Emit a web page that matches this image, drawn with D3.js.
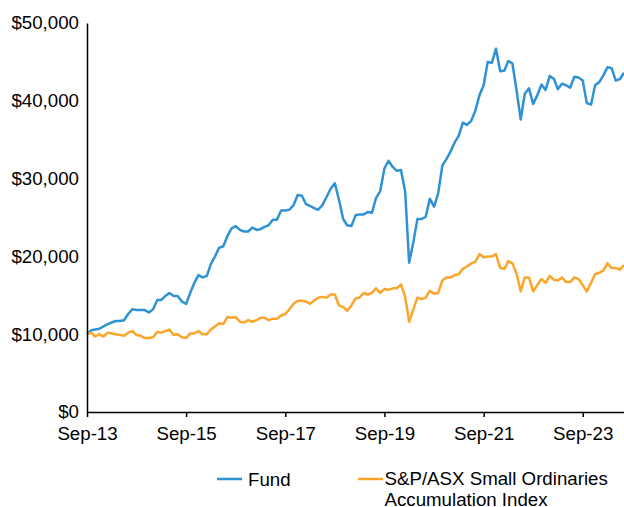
<!DOCTYPE html>
<html>
<head>
<meta charset="utf-8">
<script src="https://cdn.jsdelivr.net/npm/d3@7"></script>
<style>
  body { margin: 0; background: #fff; }
  svg text { font-family: 'Liberation Sans', Arial, sans-serif; font-size: 18.7px; fill: #000; }
</style>
</head>
<body>
<svg id="chart" width="624" height="507"></svg>
<script>
// monthly growth of $10,000, Sep-13 .. Jul-24, values in $ thousands
const startMonth = new Date(2013, 8, 1);

const fund = [
  10.0, 10.5, 10.6, 10.7, 11.0, 11.3, 11.5, 11.7, 11.7, 11.8,
  12.6, 13.2, 13.1, 13.1, 13.1, 12.8, 13.2, 14.4, 14.4, 14.9,
  15.3, 14.9, 14.9, 14.2, 13.9, 15.3, 16.6, 17.6, 17.3, 17.5,
  19.0, 20.0, 21.1, 21.3, 22.6, 23.6, 23.9, 23.4, 23.2, 23.2,
  23.7, 23.4, 23.5, 23.8, 24.0, 24.7, 24.7, 25.9, 25.9, 26.0,
  26.6, 27.9, 27.8, 26.7, 26.5, 26.2, 26.0, 26.6, 27.6, 28.7,
  29.4, 27.3, 24.8, 24.0, 23.9, 25.3, 25.4, 25.4, 25.7, 25.6,
  27.5, 28.4, 31.3, 32.3, 31.5, 31.0, 31.1, 28.3, 19.2, 21.8,
  24.8, 24.8, 25.1, 27.4, 26.4, 28.1, 31.7, 32.5, 33.5, 34.7,
  35.5, 37.2, 36.9, 37.4, 38.7, 40.7, 42.0, 45.0, 44.9, 46.7,
  43.8, 43.9, 45.1, 44.8, 41.4, 37.6, 40.9, 41.6, 39.6, 40.7,
  42.1, 41.4, 43.2, 42.8, 41.5, 42.2, 42.0, 41.7, 43.1, 43.0,
  42.6, 39.7, 39.5, 42.0, 42.4, 43.3, 44.3, 44.2, 42.6, 42.8,
  43.6
];

const index = [
  10.0, 10.2, 9.7, 10.0, 9.7, 10.2, 10.1, 10.0, 9.9, 9.8,
  10.2, 10.4, 9.9, 9.8, 9.5, 9.5, 9.6, 10.3, 10.2, 10.4,
  10.6, 9.9, 10.0, 9.6, 9.5, 10.1, 10.1, 10.4, 10.0, 10.0,
  10.6, 11.0, 11.4, 11.3, 12.2, 12.1, 12.2, 11.6, 11.5, 11.8,
  11.6, 11.8, 12.1, 12.1, 11.8, 12.0, 12.0, 12.4, 12.6, 13.2,
  13.9, 14.3, 14.3, 14.2, 13.9, 14.3, 14.7, 14.8, 14.7, 15.1,
  15.1, 13.7, 13.5, 13.0, 13.7, 14.6, 14.7, 15.3, 15.1, 15.3,
  15.9, 15.3, 15.8, 15.7, 15.9, 15.9, 16.4, 14.8, 11.6, 13.2,
  14.7, 14.5, 14.7, 15.6, 15.2, 15.3, 16.9, 17.3, 17.3, 17.6,
  17.7, 18.4, 18.7, 19.1, 19.3, 20.3, 19.9, 20.0, 20.0, 20.3,
  18.5, 18.4, 19.4, 19.1, 17.8, 15.5, 17.3, 17.3, 15.5, 16.3,
  17.1, 16.6, 17.5, 17.0, 16.9, 17.3, 16.7, 16.7, 17.3, 17.1,
  16.3, 15.5, 16.6, 17.7, 17.9, 18.2, 19.1, 18.5, 18.5, 18.3,
  18.9
];

const xTickLabels = ['Sep-13', 'Sep-15', 'Sep-17', 'Sep-19', 'Sep-21', 'Sep-23'];
const yTicks = [0, 10000, 20000, 30000, 40000, 50000];

const seriesNames = ['Fund', 'S&P/ASX Small Ordinaries Accumulation Index'];
const colors = ['#2f92d4', '#fba52b'];

const svg = d3.select('#chart');
const plot = { left: 87, right: 624, top: 23, bottom: 412 };

const months = fund.map((v, i) => d3.timeMonth.offset(startMonth, i));

const x = d3.scaleTime()
  .domain([months[0], months[months.length - 1]])
  .range([plot.left, plot.right]);
const y = d3.scaleLinear().domain([0, 50000]).range([plot.bottom, plot.top]);

// lines first, axes drawn over them
const line = d3.line()
  .x((d, i) => x(months[i]))
  .y((d) => y(d * 1000));

[fund, index].forEach((series, i) => {
  svg.append('path')
    .datum(series)
    .attr('fill', 'none')
    .attr('stroke', colors[i])
    .attr('stroke-width', 2.5)
    .attr('stroke-linejoin', 'round')
    .attr('d', line);
});

// x axis
const xTickDates = xTickLabels.map((t, i) => d3.timeMonth.offset(startMonth, i * 24));
const xAxis = svg.append('g')
  .attr('transform', `translate(0,${plot.bottom})`)
  .call(d3.axisBottom(x)
    .tickValues(xTickDates)
    .tickSize(5)
    .tickSizeOuter(0)
    .tickPadding(8)
    .tickFormat((d, i) => xTickLabels[i]));
xAxis.select('.domain').attr('stroke', '#000').attr('stroke-width', 1.5);
xAxis.selectAll('.tick line').attr('stroke', '#000').attr('stroke-width', 1.5);
xAxis.selectAll('text').attr('dy', '0.78em');
xAxis.attr('font-family', null).attr('font-size', null);

// y axis
const yAxis = svg.append('g')
  .attr('transform', `translate(${plot.left},0)`)
  .call(d3.axisLeft(y)
    .tickValues(yTicks)
    .tickSize(0)
    .tickSizeOuter(0)
    .tickPadding(8)
    .tickFormat((d) => '$' + d3.format(',')(d)));
yAxis.select('.domain').attr('stroke', '#000').attr('stroke-width', 1.5);
yAxis.attr('font-family', null).attr('font-size', null);

// legend
const legend = svg.append('g');
const fundItem = legend.append('g');
fundItem.append('line')
  .attr('x1', 217).attr('x2', 242).attr('y1', 479).attr('y2', 479)
  .attr('stroke', colors[0]).attr('stroke-width', 2.5);
fundItem.append('text').attr('x', 248).attr('y', 486).text(seriesNames[0]);

const idxItem = legend.append('g');
idxItem.append('line')
  .attr('x1', 358).attr('x2', 383).attr('y1', 479).attr('y2', 479)
  .attr('stroke', colors[1]).attr('stroke-width', 2.5);
const idxText = idxItem.append('text').attr('x', 384.5).attr('y', 485);
idxText.append('tspan').attr('x', 384.5).text('S&P/ASX Small Ordinaries');
idxText.append('tspan').attr('x', 384.5).attr('dy', 20.5).text('Accumulation Index');
</script>
</body>
</html>
